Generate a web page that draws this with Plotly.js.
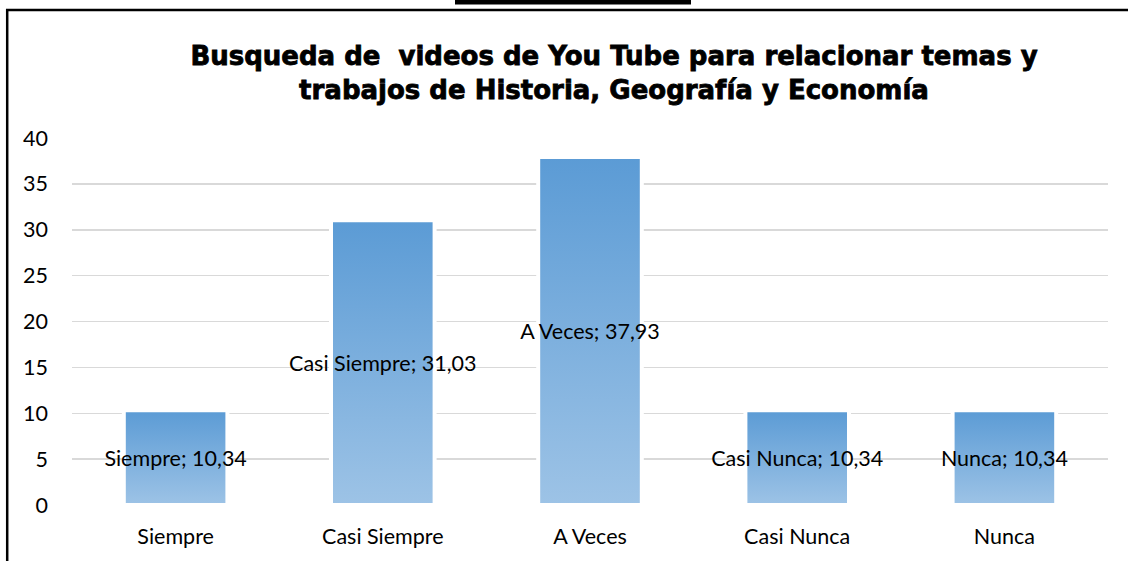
<!DOCTYPE html>
<html>
<head>
<meta charset="utf-8">
<script src="https://cdn.plot.ly/plotly-3.0.1.min.js"></script>
<style>
html,body{margin:0;padding:0;background:#fff;}
#chart{width:1128px;height:561px;}
#chart .gtitle{stroke:#000;stroke-width:0.8px;}
</style>
</head>
<body>
<div id="chart"></div>
<script>
var categories = ["Siempre", "Casi Siempre", "A Veces", "Casi Nunca", "Nunca"];
var percentages = [10.34, 31.03, 37.93, 10.34, 10.34];
var yTicks = [0, 5, 10, 15, 20, 25, 30, 35, 40];
var chartTitle = "Busqueda de  videos de You Tube para relacionar temas y<br>trabajos de Historia, Geografía y Economía";

var W = 1128, H = 561;
var mL = 72, mR = 20, mT = 138, mB = 56;
var pw = W - mL - mR, ph = H - mT - mB;
function px2x(p){ return (p - mL) / pw; }
function px2y(p){ return (H - mB - p) / ph; }
var labelFont = { family: "Lato, 'Open Sans', sans-serif", size: 21.5, color: "#000000" };

var trace = {
  type: "bar",
  x: categories,
  y: percentages,
  marker: { color: "#7aaee0", line: { color: "#ffffff", width: 4 } },
  texttemplate: "%{x}; %{y:.2f}",
  textposition: "inside",
  insidetextanchor: "middle",
  textangle: 0,
  constraintext: "none",
  insidetextfont: labelFont,
  hoverinfo: "none",
  showlegend: false
};

var layout = {
  width: W, height: H,
  margin: { l: mL, r: mR, t: mT, b: mB, pad: 0 },
  paper_bgcolor: "#ffffff",
  plot_bgcolor: "#ffffff",
  separators: ",.",
  bargap: 0.5,
  font: labelFont,
  title: {
    text: chartTitle,
    font: { family: "'DejaVu Sans', sans-serif", size: 26, weight: "bold", color: "#000000" },
    x: 614 / W, xref: "container", xanchor: "center",
    y: 1 - 65 / H, yref: "container", yanchor: "top"
  },
  xaxis: {
    type: "category",
    showgrid: false, zeroline: false, showline: false,
    ticks: "", ticklabelstandoff: 16,
    tickfont: labelFont
  },
  yaxis: {
    range: [0, 40],
    tickvals: yTicks,
    ticktext: yTicks.map(String),
    showgrid: true, gridcolor: "#d9d9d9", gridwidth: 1.5,
    zeroline: false, showline: false,
    ticks: "", ticklabelstandoff: 23,
    tickfont: labelFont
  },
  shapes: [
    { type: "rect", xref: "paper", yref: "paper",
      x0: px2x(455), x1: px2x(691), y0: px2y(0), y1: px2y(4.5),
      fillcolor: "#000000", line: { width: 0 } },
    { type: "line", xref: "paper", yref: "paper",
      x0: px2x(6), x1: px2x(1130), y0: px2y(10), y1: px2y(10),
      line: { color: "#000000", width: 2.5 } },
    { type: "line", xref: "paper", yref: "paper",
      x0: px2x(7.2), x1: px2x(7.2), y0: px2y(9), y1: px2y(565),
      line: { color: "#000000", width: 2.5 } }
  ]
};

Plotly.newPlot("chart", [trace], layout, { displayModeBar: false, staticPlot: true }).then(function(gd){
  var svg = gd.querySelector("svg.main-svg");
  var ns = "http://www.w3.org/2000/svg";
  var defs = svg.querySelector("defs") || svg.insertBefore(document.createElementNS(ns, "defs"), svg.firstChild);
  var lg = document.createElementNS(ns, "linearGradient");
  lg.setAttribute("id", "barGrad");
  lg.setAttribute("x1", "0"); lg.setAttribute("y1", "0");
  lg.setAttribute("x2", "0"); lg.setAttribute("y2", "1");
  [["0", "#5b9bd5"], ["1", "#9dc3e6"]].forEach(function(s){
    var st = document.createElementNS(ns, "stop");
    st.setAttribute("offset", s[0]);
    st.setAttribute("stop-color", s[1]);
    lg.appendChild(st);
  });
  defs.appendChild(lg);
  gd.querySelectorAll(".barlayer .point path").forEach(function(p){
    p.style.fill = "url(#barGrad)";
  });
});
</script>
</body>
</html>
